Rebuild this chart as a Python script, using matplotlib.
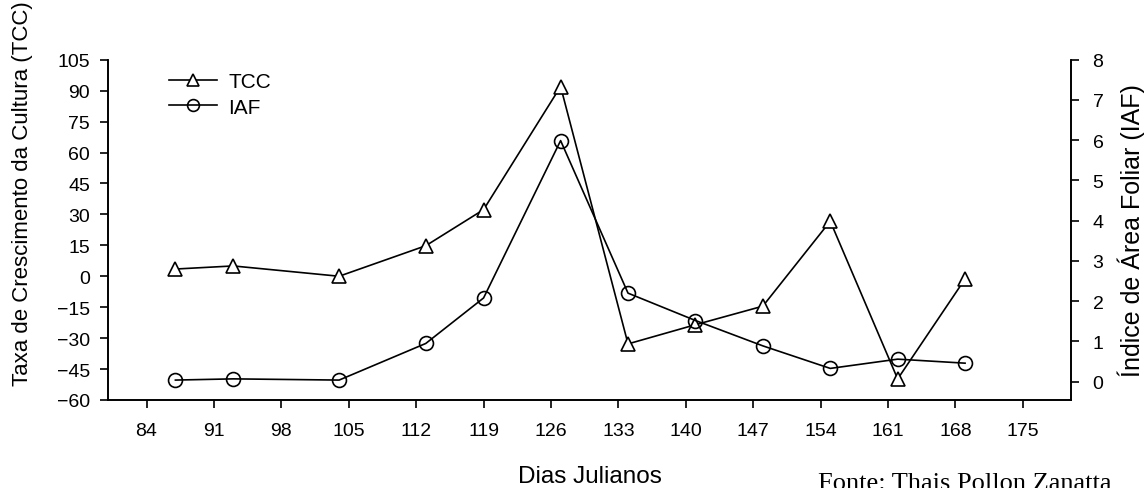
import numpy as np
import matplotlib.pyplot as plt

plt.rcParams['font.family'] = ['Liberation Sans', 'DejaVu Sans']

# Julian days
dias = [87, 93, 104, 113, 119, 127, 134, 141, 148, 155, 162, 169]
tcc = [3.5, 5, 0, 14.8, 32.3, 92, -32.8, -23.5, -14.5, 26.7, -49.8, -1.3]
iaf = [0.04, 0.07, 0.04, 0.95, 2.08, 5.99, 2.2, 1.52, 0.89, 0.33, 0.56, 0.46]

xticks = np.arange(84, 176, 7)
yticks_left = np.arange(-60, 106, 15)
yticks_right = np.arange(0, 9, 1)

fig = plt.figure(figsize=(11.48, 4.89), dpi=100)
ax = fig.add_axes([108/1148, 1 - 401/489, (1071 - 108)/1148, (401 - 60.7)/489])
ax2 = ax.twinx()

l1, = ax.plot(dias, tcc, color='black', lw=1.2, marker='^', ms=10,
              mfc='white', mec='black', mew=1.2, label='TCC')
l2, = ax2.plot(dias, iaf, color='black', lw=1.2, marker='o', ms=10,
               mfc='none', mec='black', mew=1.2, label='IAF')

ax.set_xlim(80, 180)
ax.set_ylim(-60, 105)
ax2.set_ylim(-0.455, 8)
ax.set_xticks(xticks)
ax.set_yticks(yticks_left)
ax2.set_yticks(yticks_right)

for a in (ax, ax2):
    a.tick_params(direction='out', length=6, width=1.2, labelsize=14)
    for s in a.spines.values():
        s.set_linewidth(1.2)
ax.tick_params(axis='x', pad=9.5)
ax.tick_params(axis='y', pad=7)
ax2.tick_params(axis='y', pad=9.5)
ax.spines['top'].set_visible(False)
ax2.spines['top'].set_visible(False)

ax.set_xlabel('Dias Julianos', fontsize=17.5, va='top')
ax.xaxis.set_label_coords(0.5, -0.19)
ax.set_ylabel('Taxa de Crescimento da Cultura (TCC)', fontsize=16)
ax.yaxis.set_label_coords(-0.078, 0.608)
ax2.set_ylabel('Índice de Área Foliar (IAF)', fontsize=18, labelpad=10)

ax.legend(handles=[l1, l2], loc='upper left', bbox_to_anchor=(0.0634, 0.963),
          borderaxespad=0, borderpad=0, frameon=False, fontsize=15,
          handlelength=2.3, handletextpad=0.55, labelspacing=0.3,
          markerscale=0.85)

fig.text(818/1148, 1 - 490.5/489, 'Fonte: Thais Pollon Zanatta',
         family='Liberation Serif', fontsize=19, va='baseline', ha='left')

fig.savefig('out.png', dpi=100)
